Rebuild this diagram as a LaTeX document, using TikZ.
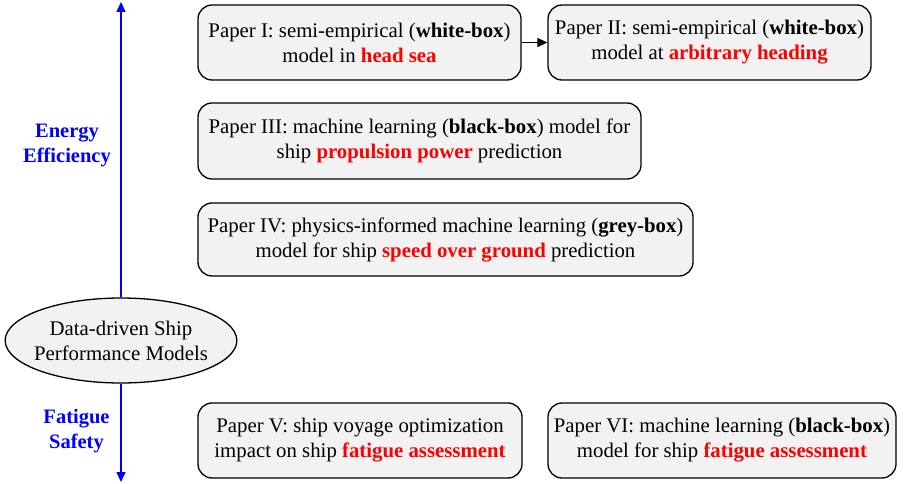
\documentclass[tikz,border=0pt]{standalone}
\usepackage{fontspec}
\setmainfont{Liberation Serif}
\usetikzlibrary{arrows.meta,shapes.geometric}
\definecolor{boxfill}{HTML}{F2F2F2}
\definecolor{hl}{HTML}{FF0000}
\definecolor{axisblue}{HTML}{0000FF}
\newcommand{\hot}[1]{\textcolor{hl}{\textbf{#1}}}
\begin{document}
\begin{tikzpicture}[x=1pt,y=-1pt,
  paper/.style={draw=black, line width=1.3pt, fill=boxfill, rounded corners=14pt,
    align=center, inner sep=0pt, font=\fontsize{20.8}{25}\selectfont},
  hub/.style={draw=black, line width=1.3pt, fill=boxfill, ellipse, align=center,
    inner xsep=-5pt, inner ysep=0pt, minimum width=230pt, minimum height=85pt,
    font=\fontsize{20.8}{25}\selectfont},
  theme/.style={align=center, text=axisblue, font=\fontsize{20.5}{25}\selectfont\bfseries},
  axisline/.style={draw=axisblue, line width=1.5pt, -{Triangle[length=10pt,width=9pt]}},
  link/.style={draw=black, line width=1.5pt, -{Triangle[length=10pt,width=9pt]}}]
\useasboundingbox (0,0) rectangle (903,484);

% paper boxes
\node[paper, minimum width=323pt, minimum height=75pt] (p1) at (359.5,42.5)
  {Paper I: semi-empirical (\textbf{white-box})\\model in \hot{head sea}};
\node[paper, minimum width=323pt, minimum height=75pt] (p2) at (709.5,42.5)
  {Paper II: semi-empirical (\textbf{white-box})\\model at \hot{arbitrary heading}};
\node[paper, minimum width=443pt, minimum height=76pt] (p3) at (419.5,141)
  {Paper III: machine learning (\textbf{black-box}) model for\\ship \hot{propulsion power} prediction};
\node[paper, minimum width=495pt, minimum height=73pt] (p4) at (445.5,239.5)
  {Paper IV: physics-informed machine learning (\textbf{grey-box})\\model for ship \hot{speed over ground} prediction};
\node[paper, minimum width=324pt, minimum height=75pt] (p5) at (360,440.5)
  {Paper V: ship voyage optimization\\impact on ship \hot{fatigue assessment}};
\node[paper, minimum width=348pt, minimum height=75pt] (p6) at (722,440.5)
  {Paper VI: machine learning (\textbf{black-box})\\model for ship \hot{fatigue assessment}};

% central topic
\node[hub] (hub) at (121,340.5) {Data-driven Ship\\Performance Models};

% theme axes
\coordinate (up) at (121,2);
\coordinate (down) at (121,482);
\draw[axisline] (hub.north) -- (up);
\draw[axisline] (hub.south) -- (down);
\node[theme] (ee) at (67,146) {Energy\\Efficiency};
\node[theme] (fs) at (76.5,431) {Fatigue\\Safety};

% link between papers I and II
\draw[link] (p1.east) -- (p2.west);
\end{tikzpicture}
\end{document}
